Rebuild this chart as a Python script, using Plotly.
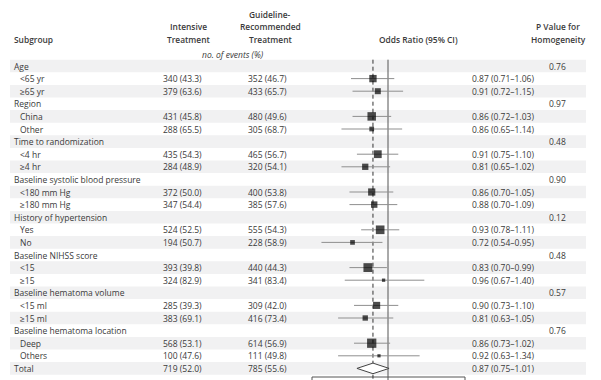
import math
import plotly.graph_objects as go

# ---------------- data ----------------
labels = ["Age", "<65 yr", "≥65 yr", "Region", "China", "Other",
          "Time to randomization", "<4 hr", "≥4 hr",
          "Baseline systolic blood pressure", "<180 mm Hg", "≥180 mm Hg",
          "History of hypertension", "Yes", "No",
          "Baseline NIHSS score", "<15", "≥15",
          "Baseline hematoma volume", "<15 ml", "≥15 ml",
          "Baseline hematoma location", "Deep", "Others", "Total"]
is_group = [True, False, False, True, False, False, True, False, False,
            True, False, False, True, False, False, True, False, False,
            True, False, False, True, False, False, False]
int_events = [None, 340, 379, None, 431, 288, None, 435, 284, None, 372, 347,
              None, 524, 194, None, 393, 324, None, 285, 383, None, 568, 100, 719]
int_pct = [None, 43.3, 63.6, None, 45.8, 65.5, None, 54.3, 48.9, None, 50.0, 54.4,
           None, 52.5, 50.7, None, 39.8, 82.9, None, 39.3, 69.1, None, 53.1, 47.6, 52.0]
gd_events = [None, 352, 433, None, 480, 305, None, 465, 320, None, 400, 385,
             None, 555, 228, None, 440, 341, None, 309, 416, None, 614, 111, 785]
gd_pct = [None, 46.7, 65.7, None, 49.6, 68.7, None, 56.7, 54.1, None, 53.8, 57.6,
          None, 54.3, 58.9, None, 44.3, 83.4, None, 42.0, 73.4, None, 56.9, 49.8, 55.6]
odds = [None, 0.87, 0.91, None, 0.86, 0.86, None, 0.91, 0.81, None, 0.86, 0.88,
        None, 0.93, 0.72, None, 0.83, 0.96, None, 0.90, 0.81, None, 0.86, 0.92, 0.87]
ci_low = [None, 0.71, 0.72, None, 0.72, 0.65, None, 0.75, 0.65, None, 0.70, 0.70,
          None, 0.78, 0.54, None, 0.70, 0.67, None, 0.73, 0.63, None, 0.73, 0.63, 0.75]
ci_high = [None, 1.06, 1.15, None, 1.03, 1.14, None, 1.10, 1.02, None, 1.05, 1.09,
           None, 1.11, 0.95, None, 0.99, 1.40, None, 1.10, 1.05, None, 1.02, 1.34, 1.01]
p_homog = ["0.76", None, None, "0.97", None, None, "0.48", None, None, "0.90", None, None,
           "0.12", None, None, "0.48", None, None, "0.57", None, None, "0.76", None, None, None]

# ---------------- style / layout constants ----------------
PAGE_W, PAGE_H = 601, 380
OFF = 8                          # default body margin of the html page
W, H = PAGE_W - OFF, PAGE_H - OFF
ROW0, ROWH = 66.0, 12.6          # page-pixel centre of first row, row height
FONT = "Open Sans"
TXT = "#3a3a3a"
SHADE = "#f1f1f2"
FS = 8.5
n = len(labels)
total_idx = n - 1
rows = list(range(n))

def py(p):  # page pixel y -> paper y
    return 1 - (p - OFF) / H

# log-x mapping: OR=1 at page pixel 388, ~248.7 px per decade
PX1, PXD = 388.0, 248.7
xr = [(OFF - PX1) / PXD, (PAGE_W - PX1) / PXD]
yr = [(PAGE_H - ROW0) / ROWH, (OFF - ROW0) / ROWH]

fig = go.Figure()

# reference lines
fig.add_trace(go.Scatter(x=[1, 1], y=[-0.5, yr[0] + 1], mode="lines",
                         line=dict(color="#555555", width=1), hoverinfo="skip",
                         showlegend=False))
fig.add_trace(go.Scatter(x=[odds[total_idx]] * 2, y=[-0.5, yr[0] + 1], mode="lines",
                         line=dict(color="#333333", width=1, dash="4px,3px"),
                         hoverinfo="skip", showlegend=False))

# CI lines
cx, cy = [], []
for i in rows:
    if odds[i] is not None and i != total_idx:
        cx += [ci_low[i], ci_high[i], None]
        cy += [i, i, None]
fig.add_trace(go.Scatter(x=cx, y=cy, mode="lines",
                         line=dict(color="#8f8f8f", width=1),
                         hoverinfo="skip", showlegend=False))

# squares (size from precision)
sx, sy, ss = [], [], []
for i in rows:
    if odds[i] is not None and i != total_idx:
        w = math.log(ci_high[i] / ci_low[i])
        sx.append(odds[i]); sy.append(i)
        ss.append(8.5 * (0.358 / w) ** 1.3)
fig.add_trace(go.Scatter(x=sx, y=sy, mode="markers",
                         marker=dict(symbol="square", size=ss, color="#000000",
                                     line=dict(width=0)),
                         hoverinfo="skip", showlegend=False))

# overall diamond
t = total_idx
hh = 0.42
fig.add_trace(go.Scatter(
    x=[ci_low[t], odds[t], ci_high[t], odds[t], ci_low[t]],
    y=[t, t - hh, t, t + hh, t], mode="lines", fill="toself", fillcolor="white",
    line=dict(color="#444444", width=1), hoverinfo="skip", showlegend=False))

# ---------------- text ----------------
ann = []
def A(x, y, text, xanchor="left", yref="y", size=FS, weight="normal", italic=False):
    s = text
    if italic:
        s = "<i>" + s + "</i>"
    ann.append(dict(x=x, y=y, xref="x2", yref=yref, text=s, showarrow=False,
                    xanchor=xanchor, yanchor="middle",
                    font=dict(family=FONT, size=size, color=TXT, weight=weight)))

for i in rows:
    A(12 if is_group[i] or i == total_idx else 18, i, labels[i])
    if int_events[i] is not None:
        A(204, i, f"{int_events[i]} ({int_pct[i]:.1f})", xanchor="right")
        A(289, i, f"{gd_events[i]} ({gd_pct[i]:.1f})", xanchor="right")
        A(470, i, f"{odds[i]:.2f} ({ci_low[i]:.2f}–{ci_high[i]:.2f})")
    if p_homog[i] is not None:
        A(568, i, p_homog[i], xanchor="right")

# headers
HS = 8.4
HW = 600
A(12, py(39), "Subgroup", yref="paper", weight=HW, size=HS)
A(188, py(27), "Intensive", xanchor="center", yref="paper", weight=HW, size=HS)
A(188, py(39), "Treatment", xanchor="center", yref="paper", weight=HW, size=HS)
A(270, py(15), "Guideline-", xanchor="center", yref="paper", weight=HW, size=HS)
A(270, py(27), "Recommended", xanchor="center", yref="paper", weight=HW, size=HS)
A(270, py(39), "Treatment", xanchor="center", yref="paper", weight=HW, size=HS)
A(233, py(54), "no. of events (%)", xanchor="center", yref="paper", italic=True)
A(418, py(39), "Odds Ratio (95% CI)", xanchor="center", yref="paper", weight=HW, size=HS)
A(558, py(27), "P Value for", xanchor="center", yref="paper", weight=HW, size=HS)
A(558, py(39), "Homogeneity", xanchor="center", yref="paper", weight=HW, size=HS)

# shading + bottom box
shapes = []
for i in rows:
    if i % 2 == 0:
        shapes.append(dict(type="rect", xref="x2", yref="y", x0=10, x1=586,
                           y0=i - 0.5, y1=i + 0.5, fillcolor=SHADE,
                           line=dict(width=0), layer="below"))
shapes.append(dict(type="rect", xref="x2", yref="paper", x0=312, x1=465,
                   y0=-0.1, y1=py(377), line=dict(color="#555555", width=1),
                   fillcolor="rgba(0,0,0,0)", layer="below"))

fig.update_layout(
    width=W, height=H, margin=dict(l=0, r=0, t=0, b=0),
    paper_bgcolor="white", plot_bgcolor="rgba(0,0,0,0)",
    xaxis=dict(type="log", range=xr, visible=False, fixedrange=True),
    xaxis2=dict(range=[OFF, PAGE_W], visible=False, overlaying="x", fixedrange=True),
    yaxis=dict(range=yr, visible=False, fixedrange=True),
    annotations=ann, shapes=shapes, showlegend=False,
)

fig.write_html("out.html")
